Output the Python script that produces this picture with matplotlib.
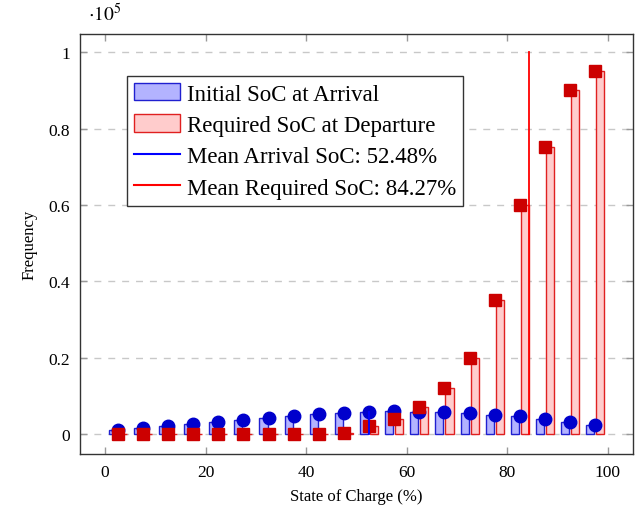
import numpy as np
import matplotlib
matplotlib.use('Agg')
from matplotlib import pyplot as plt
from matplotlib.patches import Patch
from matplotlib.lines import Line2D
from matplotlib.ticker import FuncFormatter

# bin centres of the 5 % wide State-of-Charge bins
centros = [2.5, 7.5, 12.5, 17.5, 22.5, 27.5, 32.5, 37.5, 42.5, 47.5,
           52.5, 57.5, 62.5, 67.5, 72.5, 77.5, 82.5, 87.5, 92.5, 97.5]

# frequencies (counts)
llegada = [1000, 1700, 2200, 2600, 3200, 3800, 4300, 4700, 5300, 5600,
           5900, 6000, 5700, 5800, 5500, 5100, 4700, 4000, 3300, 2500]
salida = [0, 0, 0, 0, 0, 0, 0, 0, 0, 400,
          2100, 4100, 7000, 12100, 20000, 35100, 60100, 75200, 90200, 95100]

media_llegada = 52.48
media_salida = 84.27

plt.rcParams['font.family'] = ['Liberation Serif', 'DejaVu Serif']
plt.rcParams['mathtext.fontset'] = 'stix'
fuente = 'Liberation Serif'

fig = plt.figure(figsize=(6.41, 5.10), dpi=100)
ax = fig.add_axes([0.1248, 0.1078, 0.8627, 0.8236])

ancho = 1.6
desp = 1.0
x = np.array(centros)

ax.bar(x - desp, llegada, width=ancho, color='#B3B3FF', edgecolor='#2020D0', linewidth=1.0, zorder=2)
ax.bar(x + desp, salida, width=ancho, color='#FFCCCC', edgecolor='#E02020', linewidth=1.0, zorder=2)

ax.plot(x, llegada, linestyle='none', marker='o', markersize=9, color='#0000CC', zorder=3)
ax.plot(x, salida, linestyle='none', marker='s', markersize=8.5, color='#CC0000', zorder=4)

# mean lines
ax.plot([media_llegada, media_llegada], [0, llegada[10]], color='blue', linewidth=1.3, zorder=5)
ax.plot([media_salida, media_salida], [0, 100000], color='red', linewidth=1.3, zorder=5)

ax.set_xlim(-5, 105)
ax.set_ylim(-5200, 104800)
ax.set_xticks([0, 20, 40, 60, 80, 100])
ax.set_yticks([0, 20000, 40000, 60000, 80000, 100000])
ax.yaxis.set_major_formatter(FuncFormatter(lambda v, p: '%g' % (v / 1e5)))

ax.grid(axis='y', linestyle=(0, (5, 5)), color='#C8C8C8', linewidth=1.0, zorder=0)
ax.set_axisbelow(True)

ax.tick_params(direction='in', top=True, right=True, length=5, width=1,
               color='#999999', labelsize=12.5, pad=7)
for lab in ax.get_xticklabels() + ax.get_yticklabels():
    lab.set_fontfamily(fuente)
for s in ax.spines.values():
    s.set_color('#333333')
    s.set_linewidth(1.0)

ax.set_xlabel('State of Charge (%)', fontsize=12, fontfamily=fuente, labelpad=6)
ax.set_ylabel('Frequency', fontsize=12, fontfamily=fuente, labelpad=8)
ax.text(0.015, 1.022, r'$\cdot10^5$', transform=ax.transAxes, fontsize=14,
        ha='left', va='bottom')

manijas = [
    Patch(facecolor='#B3B3FF', edgecolor='#2020D0', linewidth=1.0),
    Patch(facecolor='#FFCCCC', edgecolor='#E02020', linewidth=1.0),
    Line2D([], [], color='blue', linewidth=1.5),
    Line2D([], [], color='red', linewidth=1.5),
]
etiquetas = ['Initial SoC at Arrival', 'Required SoC at Departure',
             'Mean Arrival SoC: 52.48%', 'Mean Required SoC: 84.27%']
leg = ax.legend(manijas, etiquetas, loc='upper left', bbox_to_anchor=(0.085, 0.9),
                prop={'family': fuente, 'size': 16.5}, fancybox=False, framealpha=1,
                edgecolor='#333333', handlelength=2.0, handleheight=0.8,
                labelspacing=0.42, borderpad=0.3, handletextpad=0.3, borderaxespad=0)
leg.get_frame().set_linewidth(1.0)

plt.savefig('out.png', dpi=100)
